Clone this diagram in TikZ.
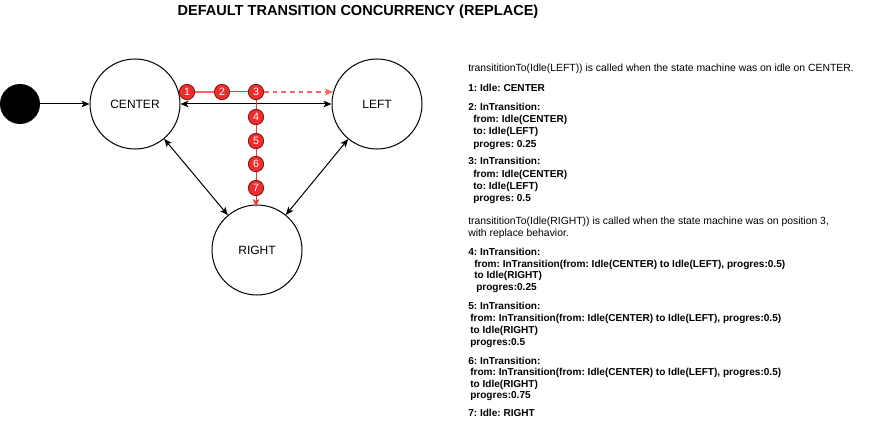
\documentclass[tikz,border=0pt]{standalone}
\usepackage{fontspec}
\setmainfont{Liberation Sans}
\usetikzlibrary{arrows.meta}
\definecolor{numred}{HTML}{EE2E2E}
\definecolor{numdark}{HTML}{8A1010}
\definecolor{redline}{HTML}{F03A3A}
\definecolor{paleline}{HTML}{FF6262}
\frenchspacing
\begin{document}
\begin{tikzpicture}[x=0.75pt,y=-0.75pt,
  state/.style={circle, draw, line width=0.75pt, minimum size=67.5pt, inner sep=0pt, font=\fontsize{9}{10}\selectfont},
  startdot/.style={circle, fill=black, minimum size=30pt, inner sep=0pt},
  num/.style={circle, fill=numred, draw=numdark, line width=0.6pt, minimum size=11.5pt, inner sep=0pt, text=white, font=\fontsize{8}{8}\selectfont},
  conn/.style={draw, line width=0.75pt, {Stealth[length=6pt,width=5pt,inset=1.5pt]}-{Stealth[length=6pt,width=5pt,inset=1.5pt]}},
  rline/.style={draw=redline, line width=0.75pt},
  pline/.style={draw=paleline, line width=0.8pt},
  txt/.style={anchor=base west, inner sep=0pt, font=\fontsize{7.8}{9}\selectfont},
  txtb/.style={anchor=base west, inner sep=0pt, font=\fontsize{7.55}{9}\selectfont\bfseries},
  title/.style={inner sep=0pt, font=\fontsize{10.9}{12}\selectfont\bfseries}
]
\useasboundingbox (0,0) rectangle (895,431);

\node[title] (ttl) at (358,12) {DEFAULT TRANSITION CONCURRENCY (REPLACE)};

\node[startdot] (start) at (20,104) {};
\node[state] (center) at (135,104) {CENTER};
\node[state] (left) at (377,104) {LEFT};
\node[state] (right) at (257,250) {RIGHT};

\draw[line width=0.75pt, -{Stealth[length=6pt,width=5pt,inset=1.5pt]}] (start) -- (center);
\draw[conn] (center) -- (left);
\draw[conn] (center) -- (right);
\draw[conn] (left) -- (right);

\node[num] (n1) at (187,92) {1};
\node[num] (n2) at (222,92) {2};
\node[num] (n3) at (256,92) {3};
\node[num] (n4) at (256,117) {4};
\node[num] (n5) at (256,141) {5};
\node[num] (n6) at (256,164) {6};
\node[num] (n7) at (256,188) {7};
\coordinate (ltip) at (333,92);
\coordinate (rtip) at (256,207);

\draw[pline] (n1) -- (n2);
\draw[rline] (n2) -- (n3);
\draw[pline, dash pattern=on 3.5pt off 3pt, -{Stealth[length=6pt,width=5pt,inset=1.5pt]}] (n3) -- (ltip);
\draw[rline] (n3) -- (n4);
\draw[rline] (n4) -- (n5);
\draw[rline] (n5) -- (n6);
\draw[rline] (n6) -- (n7);
\draw[rline, -{Stealth[length=6pt,width=5pt,inset=1.5pt]}] (n7) -- (rtip);

\node[txt] (a0) at (468,72) {transititionTo(Idle(LEFT)) is called when the state machine was on idle on CENTER.};
\node[txtb] (a1) at (468,92) {1: Idle: CENTER};
\node[txtb] (a2) at (468,111) {2: InTransition:};
\node[txtb] (a2f) at (473,123) {from: Idle(CENTER)};
\node[txtb] (a2t) at (473,135) {to: Idle(LEFT)};
\node[txtb] (a2p) at (473,147) {progres: 0.25};
\node[txtb] (a3) at (468,165) {3: InTransition:};
\node[txtb] (a3f) at (473,177) {from: Idle(CENTER)};
\node[txtb] (a3t) at (473,189) {to: Idle(LEFT)};
\node[txtb] (a3p) at (473,201) {progres: 0.5};
\node[txt] (b0) at (468,224) {transititionTo(Idle(RIGHT)) is called when the state machine was on position 3,};
\node[txt] (b0b) at (468,236) {with replace behavior.};
\node[txtb] (a4) at (468,255) {4: InTransition:};
\node[txtb] (a4f) at (474,267) {from: InTransition(from: Idle(CENTER) to Idle(LEFT), progres:0.5)};
\node[txtb] (a4t) at (474,278) {to Idle(RIGHT)};
\node[txtb] (a4p) at (476,290) {progres:0.25};
\node[txtb] (a5) at (468,309) {5: InTransition:};
\node[txtb] (a5f) at (470,321) {from: InTransition(from: Idle(CENTER) to Idle(LEFT), progres:0.5)};
\node[txtb] (a5t) at (470,333) {to Idle(RIGHT)};
\node[txtb] (a5p) at (470,345) {progres:0.5};
\node[txtb] (a6) at (468,364) {6: InTransition:};
\node[txtb] (a6f) at (470,375) {from: InTransition(from: Idle(CENTER) to Idle(LEFT), progres:0.5)};
\node[txtb] (a6t) at (470,387) {to Idle(RIGHT)};
\node[txtb] (a6p) at (470,398) {progres:0.75};
\node[txtb] (a7) at (468,416) {7: Idle: RIGHT};
\end{tikzpicture}
\end{document}
